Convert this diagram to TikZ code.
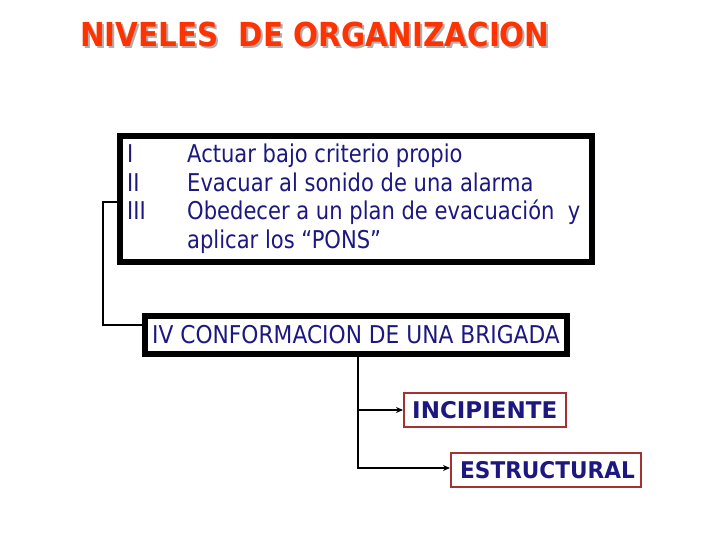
\documentclass[tikz,border=0pt]{standalone}
\usepackage{fontspec}
\setmainfont{DejaVu Sans}[FakeStretch=0.86]
\newfontfamily\titlefont{DejaVu Sans}[FakeStretch=0.89]
\newfontfamily\ivfont{DejaVu Sans}[FakeStretch=0.888]
\newfontfamily\labelfont{DejaVu Sans}
\newfontfamily\labelfontnarrow{DejaVu Sans}[FakeStretch=0.94]
\usetikzlibrary{arrows.meta}
\definecolor{navy}{RGB}{28,24,128}
\definecolor{titlered}{RGB}{255,51,0}
\definecolor{shadowgray}{RGB}{175,175,175}
\definecolor{boxred}{RGB}{165,50,50}
\newcommand{\shadowtext}[1]{\rlap{\hspace{2pt}\raisebox{-2pt}{\textcolor{shadowgray}{#1}}}\textcolor{titlered}{#1}}
\tikzset{
  bigbox/.style={draw=black, line width=6pt, fill=white, inner sep=0pt},
  redbox/.style={draw=boxred, line width=2pt, fill=white, inner sep=0pt},
  bodytext/.style={text=navy, font=\fontsize{24.5}{29}\selectfont, inner sep=0pt, anchor=base west},
  boldtext/.style={text=navy, font=\labelfont\fontsize{23}{27}\selectfont\bfseries, inner sep=0pt, anchor=base west},
  conn/.style={draw=black, line width=2pt},
}
\begin{document}
\begin{tikzpicture}[x=1pt,y=-1pt]
\useasboundingbox (0,0) rectangle (720,540);
% title
\node[anchor=base west, inner sep=0pt, font=\titlefont\fontsize{33}{40}\selectfont\bfseries] (title) at (80,47) {\shadowtext{NIVELES\ \ DE ORGANIZACION}};
% main box
\node[bigbox, minimum width=472pt, minimum height=126pt] (mainbox) at (356,199) {};
\node[bodytext] (r1) at (127,163) {I};
\node[bodytext] (r2) at (127,191.5) {II};
\node[bodytext] (r3) at (127,220) {III};
\node[bodytext] (t1) at (187,163) {Actuar bajo criterio propio};
\node[bodytext] (t2) at (187,191.5) {Evacuar al sonido de una alarma};
\node[bodytext] (t3) at (187,220) {Obedecer a un plan de evacuación\ \ y};
\node[bodytext] (t4) at (187,248.5) {aplicar los “PONS”};
% IV box
\node[bigbox, minimum width=422pt, minimum height=38pt] (ivbox) at (356,335) {};
\node[bodytext, font=\ivfont\fontsize{24.5}{29}\selectfont] (ivtext) at (152,343) {IV CONFORMACION DE UNA BRIGADA};
% red boxes
\node[redbox, minimum width=162pt, minimum height=34pt] (incip) at (485,410) {};
\node[boldtext] (inciptext) at (412,418) {INCIPIENTE};
\node[redbox, minimum width=190pt, minimum height=34pt] (estr) at (546,470) {};
\node[boldtext, font=\labelfontnarrow\fontsize{23}{27}\selectfont\bfseries] (estrtext) at (460,478) {ESTRUCTURAL};
% connectors
\coordinate (leftbend) at (103,202);
\draw[conn] ([yshift=-3pt]mainbox.west) -- (leftbend) |- ([yshift=10pt]ivbox.west);
\coordinate (drop) at ([xshift=2pt]ivbox.south);
\draw[conn, -{Stealth[length=7pt,width=6pt]}] (drop) |- ([yshift=2pt]estr.west);
\draw[conn, -{Stealth[length=7pt,width=6pt]}] (drop |- incip.west) -- (incip.west);
\end{tikzpicture}
\end{document}
